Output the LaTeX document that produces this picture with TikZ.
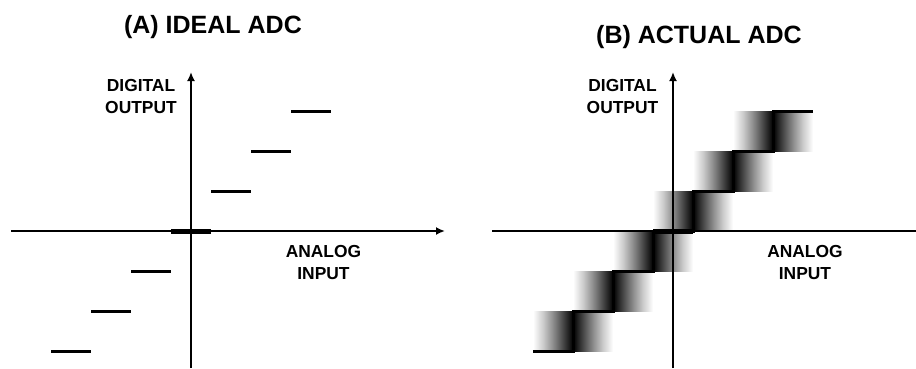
\documentclass[tikz,border=0pt]{standalone}
\usepackage{fontspec}
\setmainfont{Liberation Sans}
\usetikzlibrary{arrows.meta}
% soft fade towards a riser (white outside, black at the riser)
\pgfdeclarehorizontalshading{fadein}{100bp}{color(0bp)=(white); color(25bp)=(white);
  color(37.5bp)=(black!20); color(50bp)=(black!45); color(62.5bp)=(black!72);
  color(75bp)=(black); color(100bp)=(black)}
\pgfdeclarehorizontalshading{fadeout}{100bp}{color(0bp)=(black); color(25bp)=(black);
  color(37.5bp)=(black!72); color(50bp)=(black!45); color(62.5bp)=(black!20);
  color(75bp)=(white); color(100bp)=(white)}
\begin{document}
\begin{tikzpicture}[x=1pt,y=-1pt,
  axisline/.style={line width=2.2pt},
  axisarrow/.style={line width=2.2pt,-{Latex[length=9pt,width=8pt]}},
  stepline/.style={line width=3pt},
  zerostep/.style={line width=5pt},
  title/.style={font=\fontsize{25}{30}\selectfont\bfseries,anchor=base,inner sep=0pt},
  axlabel/.style={font=\fontsize{17.4}{22}\selectfont\bfseries,align=center,anchor=base,inner sep=0pt}]
\useasboundingbox[fill=white] (0,0) rectangle (916,368);

% ---------- (A) ideal converter ----------
\node[title] (tA) at (213,33) {(A) IDEAL ADC};
\node[axlabel] (yA) at (141,113.2) {DIGITAL\\OUTPUT};
\node[axlabel] (xA) at (323.5,279.2) {ANALOG\\INPUT};
\coordinate (Aleft) at (11,231);
\coordinate (Aright) at (445,231);
\coordinate (Abot) at (191,368);
\coordinate (Atop) at (191,72);
\draw[axisarrow] (Aleft) -- (Aright);
\draw[axisarrow] (Abot) -- (Atop);
\foreach \k in {-3,-2,-1,1,2,3}
  \draw[stepline] ({171+40*\k},{231-40*\k}) -- ({211+40*\k},{231-40*\k});
\draw[zerostep] (171,231) -- (211,231);

% ---------- (B) actual converter ----------
\node[title] (tB) at (699,43) {(B) ACTUAL ADC};
\node[axlabel] (yB) at (622.5,113.2) {DIGITAL\\OUTPUT};
\node[axlabel] (xB) at (805,279.2) {ANALOG\\INPUT};
% code-transition uncertainty bands around each riser
\foreach \r/\yt in {573/311,613/271,653/231,693/191,733/151,773/111}{
  \shade[shading=fadein] ({\r-40},\yt) rectangle (\r,{\yt+40});
  \shade[shading=fadeout] (\r,\yt) rectangle ({\r+40},{\yt+40});
}
\coordinate (Bleft) at (492,231);
\coordinate (Bright) at (916,231);
\coordinate (Bbot) at (673,368);
\coordinate (Btop) at (673,72);
\draw[axisline] (Bleft) -- (Bright);
\draw[axisarrow] (Bbot) -- (Btop);
\draw[stepline] (533,351) -- (573,351) -- (573,311) -- (613,311) -- (613,271)
  -- (653,271) -- (653,231) -- (693,231) -- (693,191) -- (733,191)
  -- (733,151) -- (773,151) -- (773,111) -- (813,111);
\draw[zerostep] (653,231) -- (693,231);
\end{tikzpicture}
\end{document}
